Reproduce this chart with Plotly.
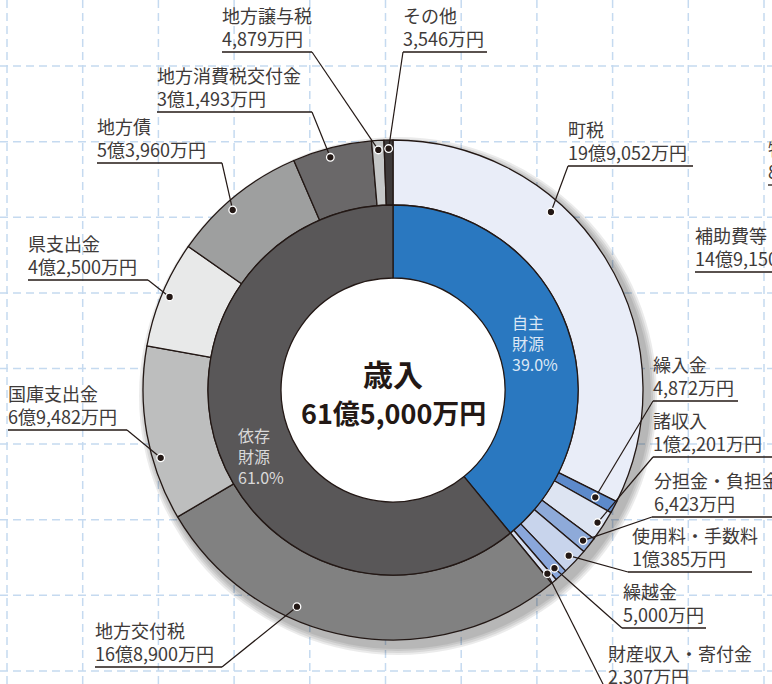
import math
import plotly.graph_objects as go

# ---------------- data (万円) ----------------
center_title = "歳入"
own_names = ["町税", "繰入金", "諸収入", "分担金・負担金", "使用料・手数料", "繰越金", "財産収入・寄付金"]
own_values = [199052, 4872, 12201, 6423, 10385, 5000, 2307]
dep_names = ["地方交付税", "国庫支出金", "県支出金", "地方債", "地方消費税交付金", "地方譲与税", "その他"]
dep_values = [168900, 69482, 42500, 53960, 31493, 4879, 3546]
group_names = ["自主<br>財源", "依存<br>財源"]
group_pct = [39.0, 61.0]

# neighbouring (cut-off) chart labels
side_names = ["補助費等", "物件費"]
side_values = ["14億9,150万円", "8億"]

# ---------------- styles ----------------
own_colors = ["#e9edf8", "#5d8acb", "#dde4f2", "#8eaad9", "#c8d4ec", "#8aa7db", "#d6dff1"]
dep_colors = ["#818181", "#bdbebe", "#e8e9e9", "#9e9f9f", "#6a6869", "#c4c6c6", "#3e3a3a"]
group_colors = ["#2a78c0", "#595758"]
EDGE = "#231815"
TXT = "#3e3a39"
FONT = "Noto Sans CJK JP"
LSIZE = 18

W, H = 772, 684
CX, CY = 393, 390
R_OUT, R_MID, R_IN = 250, 185, 112

# label layout in pixels: text_x, underline_y, underline_x0, underline_x1, attach_x, dot_frac, dot_rfac
own_layout = [
    (568, 166, 568, 693, 568, 0.357, 0.952),
    (653, 401, 653, 738, 653, 0.5, 0.916),
    (653, 457, 653, 790, 653, 0.5, 0.975),
    (654, 517, 652, 790, 652, 0.5, 0.970),
    (632, 572, 628, 752, 628, 0.5, 0.966),
    (623, 628, 622, 706, 622, 0.5, 0.962),
    (608, 690, 606, 790, 606, 0.5, 0.960),
]
dep_layout = [
    (95, 667, 95, 222, 222, 0.64, 0.948),
    (8, 430, 8, 127, 127, 0.35, 0.968),
    (28, 280, 28, 148, 148, 0.5, 0.968),
    (97, 163, 97, 222, 222, 0.42, 0.964),
    (157, 112, 157, 312, 312, 0.45, 0.964),
    (222, 52, 222, 312, 312, 0.5, 0.962),
    (403, 52, 403, 487, 403, 0.5, 0.966),
]
side_layout = [(695, 272, 695, 800), (768, 185, 768, 800)]


def px(x):
    return x / W


def py(y):
    return 1 - y / H


def dom(r):
    return dict(x=[(CX - r) / W, (CX + r) / W], y=[(H - CY - r) / H, (H - CY + r) / H])


def fmt(v):
    oku, man = divmod(v, 10000)
    s = f"{man:,}万円" if man else "万円"
    return f"{oku}億{s}" if oku else s


def label_at(name, value, x, uy):
    return dict(text=f"{name}<br>{value}", x=px(x), y=py(uy - 25.5), xref="paper", yref="paper",
                xanchor="left", yanchor="middle", align="left", showarrow=False,
                font=dict(family=FONT, size=LSIZE, color=TXT))


names = own_names + dep_names
values = own_values + dep_values
layouts = own_layout + dep_layout
total = sum(values)
group_values = [sum(own_values), sum(dep_values)]

fig = go.Figure()

shapes = []
# background dashed grid
gx = [7 + 75.7 * k for k in range(11)]
gy = [-9.5 + 75.6 * k for k in range(10)]
for x in gx:
    shapes.append(dict(type="line", xref="paper", yref="paper", x0=px(x), x1=px(x), y0=0, y1=1,
                       line=dict(color="#c5daf0", width=1.5, dash="8px,5px"), layer="below"))
for y in gy:
    shapes.append(dict(type="line", xref="paper", yref="paper", x0=0, x1=1, y0=py(y), y1=py(y),
                       line=dict(color="#c5daf0", width=1.5, dash="8px,5px"), layer="below"))
# soft shadow to lower right
for rr in [259, 257, 255, 253]:
    shapes.append(dict(type="circle", xref="paper", yref="paper",
                       x0=px(CX + 5 - rr), x1=px(CX + 5 + rr), y0=py(CY + 6 + rr), y1=py(CY + 6 - rr),
                       fillcolor="rgba(0,0,0,0.08)", line=dict(width=0), layer="below"))
# white centre
shapes.append(dict(type="circle", xref="paper", yref="paper",
                   x0=px(CX - R_IN - 3), x1=px(CX + R_IN + 3), y0=py(CY + R_IN + 3), y1=py(CY - R_IN - 3),
                   fillcolor="white", line=dict(width=0), layer="below"))

fig.add_trace(go.Pie(
    values=values, labels=names, sort=False, direction="clockwise", rotation=0,
    hole=R_MID / R_OUT, domain=dom(R_OUT),
    marker=dict(colors=own_colors + dep_colors, line=dict(color=EDGE, width=1.3)),
    textinfo="none", hoverinfo="skip", showlegend=False,
))
fig.add_trace(go.Pie(
    values=group_values, labels=["自主財源", "依存財源"], sort=False, direction="clockwise", rotation=0,
    hole=R_IN / R_MID, domain=dom(R_MID),
    marker=dict(colors=group_colors, line=dict(color=EDGE, width=1.3)),
    textinfo="none", hoverinfo="skip", showlegend=False,
))

annotations = []
cum = 0
for name, v, lay in zip(names, values, layouts):
    tx, uy, ux0, ux1, ax, frac, rf = lay
    a0 = cum / total * 360
    a1 = (cum + v) / total * 360
    cum += v
    th = math.radians(a0 + (a1 - a0) * frac)
    r = R_OUT * rf
    dx, dy = CX + r * math.sin(th), CY - r * math.cos(th)
    shapes.append(dict(type="line", xref="paper", yref="paper", x0=px(ux0), x1=px(ux1),
                       y0=py(uy), y1=py(uy), line=dict(color=EDGE, width=1.3)))
    shapes.append(dict(type="line", xref="paper", yref="paper", x0=px(ax), x1=px(dx),
                       y0=py(uy), y1=py(dy), line=dict(color=EDGE, width=1.2)))
    shapes.append(dict(type="circle", xref="paper", yref="paper", xsizemode="pixel", ysizemode="pixel",
                       xanchor=px(dx), yanchor=py(dy), x0=-3.8, x1=3.8, y0=-3.8, y1=3.8,
                       fillcolor=EDGE, line=dict(color="white", width=1.3)))
    annotations.append(label_at(name, fmt(v), tx - 2, uy))

# neighbouring chart fragments (cut by the edge)
for n, v, (tx, uy, ux0, ux1) in zip(side_names, side_values, side_layout):
    shapes.append(dict(type="line", xref="paper", yref="paper", x0=px(ux0), x1=px(ux1),
                       y0=py(uy), y1=py(uy), line=dict(color=EDGE, width=1.3)))
    annotations.append(label_at(n, v, tx - 2, uy))

# inner ring labels
annotations.append(dict(text=f"{group_names[0]}<br>{group_pct[0]:.1f}%", x=px(510), y=py(308),
                        xref="paper", yref="paper", xanchor="left", yanchor="top", align="left",
                        showarrow=False, font=dict(family=FONT, size=16, color="#dce7f5")))
annotations.append(dict(text=f"{group_names[1]}<br>{group_pct[1]:.1f}%", x=px(236), y=py(421),
                        xref="paper", yref="paper", xanchor="left", yanchor="top", align="left",
                        showarrow=False, font=dict(family=FONT, size=16, color="#d9d9d9")))

# centre text
annotations.append(dict(text=f"<b>{center_title}</b>", x=px(CX), y=py(373), xref="paper", yref="paper",
                        xanchor="center", yanchor="middle", showarrow=False,
                        font=dict(family=FONT, size=30, color=EDGE)))
annotations.append(dict(text=f"<b>{fmt(total)}</b>", x=px(CX), y=py(413), xref="paper", yref="paper",
                        xanchor="center", yanchor="middle", showarrow=False,
                        font=dict(family=FONT, size=27, color=EDGE)))

fig.update_layout(
    width=W, height=H, margin=dict(l=0, r=0, t=0, b=0),
    paper_bgcolor="white", plot_bgcolor="white",
    shapes=shapes, annotations=annotations,
    font=dict(family=FONT),
)

fig.write_html("out.html", config={"displayModeBar": False},
               post_script="document.body.style.margin='0px';document.body.style.overflow='hidden';")
